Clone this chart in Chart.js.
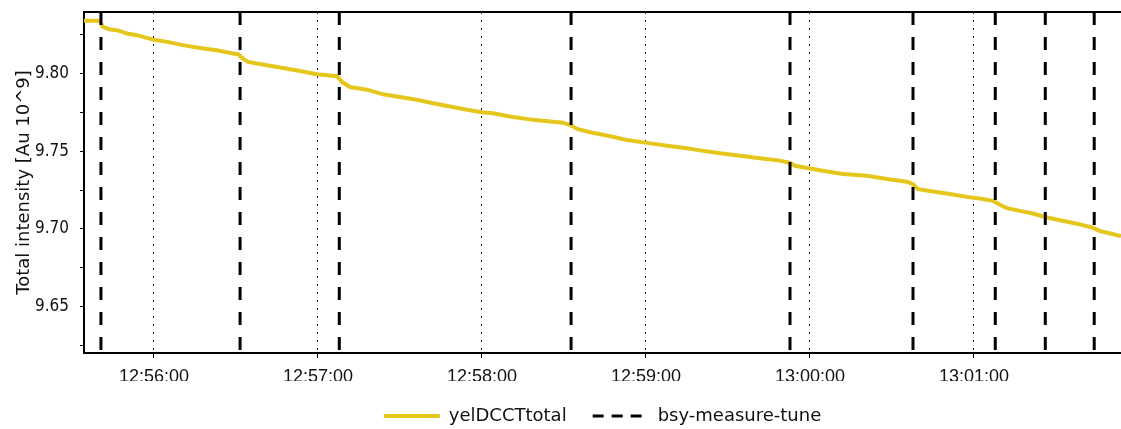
<!DOCTYPE html>
<html>
<head>
<meta charset="utf-8">
<title>yelDCCTtotal</title>
<script src="https://cdn.jsdelivr.net/npm/chart.js@4.4.0/dist/chart.umd.min.js"></script>
<style>
    html, body { margin: 0; padding: 0; background: #fff; }
    canvas { display: block; }
</style>
</head>
<body>
<canvas id="intensityChart" width="1121" height="429"></canvas>
<script>
// yelDCCTtotal samples
const sampleTimes = [
    '12:55:34.4', '12:55:40.2', '12:55:41.3', '12:55:43.9', '12:55:46.5', '12:55:50.1',
    '12:55:53.8', '12:55:57.4', '12:55:59.6', '12:56:04.8', '12:56:10.6', '12:56:16.8',
    '12:56:23.0', '12:56:28.9', '12:56:30.7', '12:56:32.6', '12:56:34.4', '12:56:41.3',
    '12:56:47.2', '12:56:53.4', '12:56:59.6', '12:57:07.0', '12:57:08.8', '12:57:11.7',
    '12:57:17.9', '12:57:23.8', '12:57:30.0', '12:57:36.2', '12:57:42.1', '12:57:48.3',
    '12:57:54.5', '12:58:00.0', '12:58:04.0', '12:58:10.2', '12:58:18.7', '12:58:24.9',
    '12:58:29.6', '12:58:32.2', '12:58:34.8', '12:58:39.5', '12:58:45.7', '12:58:53.0',
    '12:59:00.4', '12:59:07.7', '12:59:15.0', '12:59:19.8', '12:59:27.1', '12:59:34.4',
    '12:59:41.7', '12:59:49.0', '12:59:52.7', '12:59:54.5', '13:00:00.0', '13:00:08.4',
    '13:00:12.1', '13:00:20.9', '13:00:28.2', '13:00:35.5', '13:00:37.7', '13:00:39.5',
    '13:00:45.0', '13:00:51.2', '13:00:57.4', '13:01:03.3', '13:01:06.9', '13:01:09.5',
    '13:01:12.1', '13:01:16.8', '13:01:21.6', '13:01:26.0', '13:01:31.5', '13:01:37.7',
    '13:01:43.5', '13:01:46.1', '13:01:53.8'
];
const intensity = [
    9.8337, 9.8337, 9.8299, 9.8282, 9.8277, 9.8256,
    9.8245, 9.8228, 9.8217, 9.8202, 9.8181, 9.8163,
    9.8148, 9.8127, 9.8123, 9.8095, 9.8073, 9.8052,
    9.8034, 9.8015, 9.7994, 9.7981, 9.7944, 9.7912,
    9.7895, 9.7865, 9.7848, 9.7830, 9.7808, 9.7787,
    9.7766, 9.7750, 9.7744, 9.7723, 9.7701, 9.7690,
    9.7682, 9.7669, 9.7643, 9.7621, 9.7600, 9.7572,
    9.7553, 9.7535, 9.7518, 9.7505, 9.7486, 9.7471,
    9.7454, 9.7439, 9.7424, 9.7406, 9.7389, 9.7363,
    9.7353, 9.7342, 9.7321, 9.7303, 9.7288, 9.7256,
    9.7241, 9.7224, 9.7206, 9.7192, 9.7181, 9.7155,
    9.7134, 9.7116, 9.7099, 9.7077, 9.7056, 9.7034,
    9.7008, 9.6987, 9.6955
];

// bsy-measure-tune events
const tuneTimes = [
    '12:55:40.6', '12:56:31.5', '12:57:07.8', '12:58:32.6', '12:59:52.7',
    '13:00:37.7', '13:01:07.8', '13:01:26.1', '13:01:44.0'
];

// axes
const xTickTimes = ['12:56:00', '12:57:00', '12:58:00', '12:59:00', '13:00:00', '13:01:00'];
const yMajorTicks = [9.65, 9.70, 9.75, 9.80];
const yMinorTicks = [9.625, 9.675, 9.725, 9.775, 9.825];
const xRange = ['12:55:34.4', '13:01:53.8'];
const yRange = [9.6203, 9.8394];

function toSeconds(t) {
    const p = t.split(':').map(Number);
    return p[0] * 3600 + p[1] * 60 + p[2];
}

function fmtTime(s) {
    const pad = n => String(n).padStart(2, '0');
    s = Math.round(s);
    return pad(Math.floor(s / 3600)) + ':' + pad(Math.floor(s / 60) % 60) + ':' + pad(s % 60);
}

// one vertical segment per event, split by a null so each restarts its dash pattern
const tunePoints = [];
tuneTimes.forEach(t => {
    const x = toSeconds(t);
    tunePoints.push({ x: x, y: yRange[1] }, { x: x, y: yRange[0] }, { x: x, y: null });
});

// frame line along the top of the plot
const topBorder = {
    id: 'topBorder',
    afterDraw(chart) {
        const { ctx, chartArea } = chart;
        ctx.save();
        ctx.strokeStyle = '#000';
        ctx.lineWidth = 2;
        ctx.beginPath();
        ctx.moveTo(chartArea.left, chartArea.top);
        ctx.lineTo(chartArea.right, chartArea.top);
        ctx.stroke();
        ctx.restore();
    }
};

const ctx = document.getElementById('intensityChart').getContext('2d');
new Chart(ctx, {
    type: 'line',
    data: {
        datasets: [{
            label: 'yelDCCTtotal',
            data: sampleTimes.map((t, i) => ({ x: toSeconds(t), y: intensity[i] })),
            borderColor: 'rgb(228, 198, 28)',
            backgroundColor: 'rgb(228, 198, 28)',
            borderWidth: 4,
            pointRadius: 0,
            tension: 0,
            fill: false,
            order: 1
        }, {
            label: 'bsy-measure-tune',
            data: tunePoints,
            borderColor: '#000',
            backgroundColor: '#000',
            borderWidth: 3,
            borderDash: [13, 12],
            pointRadius: 0,
            spanGaps: false,
            fill: false,
            order: 0
        }]
    },
    options: {
        responsive: false,
        animation: false,
        layout: { padding: { left: 0, right: 0, top: 12, bottom: -6 } },
        plugins: {
            legend: {
                position: 'bottom',
                fullSize: false,
                labels: {
                    usePointStyle: true,
                    pointStyle: 'line',
                    pointStyleWidth: 56,
                    padding: 26,
                    color: '#111',
                    font: { family: 'DejaVu Sans', size: 18 },
                    sort: (a, b) => a.datasetIndex - b.datasetIndex,
                    generateLabels(chart) {
                        const items = Chart.defaults.plugins.legend.labels.generateLabels(chart);
                        items.forEach(it => { if (it.datasetIndex === 1) it.lineDash = [11, 8]; });
                        return items;
                    }
                }
            },
            tooltip: { enabled: false }
        },
        scales: {
            x: {
                type: 'linear',
                min: toSeconds(xRange[0]),
                max: toSeconds(xRange[1]),
                afterBuildTicks: scale => {
                    scale.ticks = xTickTimes.map(t => ({ value: toSeconds(t) }));
                },
                afterFit: scale => { scale.height = 28; },
                ticks: {
                    autoSkip: false,
                    maxRotation: 0,
                    padding: 8,
                    color: '#111',
                    font: { family: 'Liberation Sans', size: 18 },
                    callback: v => fmtTime(v)
                },
                grid: {
                    color: '#111',
                    lineWidth: 1,
                    tickLength: 5,
                    tickColor: '#000',
                    tickWidth: 1,
                    tickBorderDash: []
                },
                border: { color: '#000', width: 2, dash: [2, 6] }
            },
            y: {
                min: yRange[0],
                max: yRange[1],
                afterBuildTicks: scale => {
                    scale.ticks = yMinorTicks.concat(yMajorTicks)
                        .sort((a, b) => a - b)
                        .map(v => ({ value: v }));
                },
                afterFit: scale => {
                    scale.width = 84;
                    scale.paddingTop = 0;
                    scale.paddingBottom = 0;
                },
                ticks: {
                    autoSkip: false,
                    padding: 11,
                    color: '#111',
                    font: { family: "'Liberation Sans Narrow', 'DejaVu Sans Condensed', 'Liberation Sans'", size: 17 },
                    callback: v => yMajorTicks.some(m => Math.abs(m - v) < 1e-6) ? v.toFixed(2) : ''
                },
                grid: {
                    drawOnChartArea: false,
                    tickLength: 4,
                    tickColor: '#000',
                    tickWidth: 1
                },
                border: { color: '#000', width: 2 },
                title: {
                    display: true,
                    text: 'Total intensity [Au 10^9]',
                    color: '#111',
                    font: { family: 'DejaVu Sans', size: 18 },
                    padding: { top: 14, bottom: 0 }
                }
            }
        }
    },
    plugins: [topBorder]
});
</script>
</body>
</html>
